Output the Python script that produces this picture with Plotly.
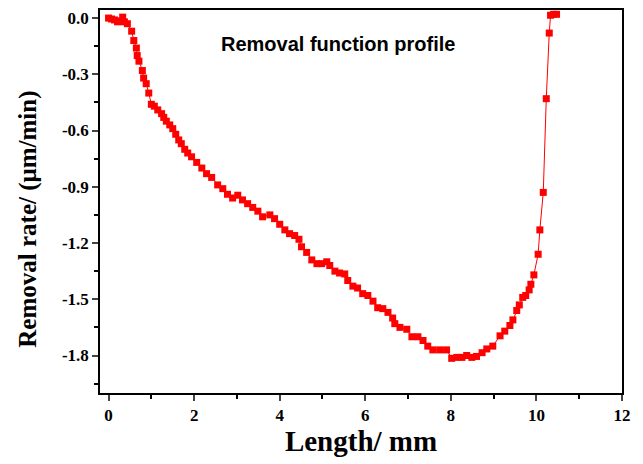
import plotly.graph_objects as go

length_mm = [
    0.00, 0.07, 0.14, 0.21, 0.28, 0.33, 0.37, 0.44, 0.54, 0.59, 0.65, 0.67, 0.71,
    0.79, 0.82, 0.88, 0.94, 1.00, 1.07, 1.15, 1.24, 1.29, 1.35, 1.43, 1.50, 1.57,
    1.64, 1.70, 1.78, 1.85, 1.94, 2.06, 2.18, 2.29, 2.41, 2.55, 2.67, 2.78, 2.90,
    3.02, 3.13, 3.25, 3.37, 3.49, 3.60, 3.77, 3.88, 4.00, 4.12, 4.23, 4.35, 4.45,
    4.51, 4.63, 4.75, 4.87, 4.98, 5.10, 5.17, 5.29, 5.40, 5.52, 5.59, 5.71, 5.82,
    5.94, 6.06, 6.18, 6.29, 6.41, 6.53, 6.64, 6.69, 6.81, 6.97, 7.09, 7.23, 7.35,
    7.46, 7.58, 7.74, 7.90, 8.02, 8.14, 8.26, 8.37, 8.49, 8.60, 8.73, 8.84, 8.98,
    9.15, 9.26, 9.38, 9.45, 9.54, 9.60, 9.68, 9.75, 9.83, 9.87, 9.94, 10.04, 10.08,
    10.16, 10.23, 10.30, 10.33, 10.40, 10.47,
]
removal_rate = [
    0.000, -0.005, -0.010, -0.020, -0.015, 0.005, -0.020, -0.030, -0.070, -0.120,
    -0.160, -0.200, -0.230, -0.280, -0.320, -0.350, -0.400, -0.460, -0.470, -0.490,
    -0.510, -0.530, -0.550, -0.570, -0.590, -0.620, -0.650, -0.670, -0.700, -0.720,
    -0.740, -0.770, -0.800, -0.830, -0.850, -0.890, -0.910, -0.940, -0.960, -0.945,
    -0.970, -0.990, -1.010, -1.030, -1.060, -1.050, -1.070, -1.100, -1.130, -1.150,
    -1.160, -1.180, -1.220, -1.250, -1.290, -1.310, -1.310, -1.300, -1.320, -1.350,
    -1.360, -1.365, -1.400, -1.430, -1.440, -1.470, -1.480, -1.510, -1.545, -1.550,
    -1.570, -1.600, -1.630, -1.650, -1.660, -1.700, -1.700, -1.720, -1.750, -1.770,
    -1.770, -1.770, -1.815, -1.810, -1.810, -1.800, -1.810, -1.805, -1.785, -1.765,
    -1.750, -1.695, -1.670, -1.640, -1.610, -1.560, -1.530, -1.490, -1.480, -1.450,
    -1.420, -1.370, -1.260, -1.130, -0.930, -0.430, -0.080, 0.015, 0.020, 0.020,
]

x_ticks = [0, 2, 4, 6, 8, 10, 12]
x_tick_text = ["0", "2", "4", "6", "8", "10", "12"]
y_ticks = [0.0, -0.3, -0.6, -0.9, -1.2, -1.5, -1.8]
y_tick_text = ["0.0", "-0.3", "-0.6", "-0.9", "-1.2", "-1.5", "-1.8"]

fig = go.Figure()
fig.add_trace(go.Scatter(
    x=length_mm, y=removal_rate, mode="lines+markers",
    line=dict(color="#ff0000", width=1),
    marker=dict(symbol="square", size=7, color="#ff0000", line=dict(width=0)),
    showlegend=False, cliponaxis=False,
))

serif = "Liberation Serif, Times New Roman, serif"
# page body has an 8px margin; figure sized to compensate
fig.update_layout(
    width=635, height=456,
    margin=dict(l=92, r=21, t=0, b=71),
    plot_bgcolor="white", paper_bgcolor="white",
    font=dict(family=serif, color="black"),
    annotations=[
        dict(
            text="<b>Removal function profile</b>", x=0.455, y=0.912,
            xref="paper", yref="paper", showarrow=False,
            xanchor="center", yanchor="middle",
            font=dict(family="Liberation Sans, Arial, sans-serif", size=20, color="black"),
        ),
        dict(
            text="<b>Removal rate/ (μm/min)</b>", x=-0.138, y=0.455,
            xref="paper", yref="paper", showarrow=False, textangle=-90,
            xanchor="center", yanchor="middle",
            font=dict(family=serif, size=25, color="black"),
        ),
    ],
)
fig.update_xaxes(
    range=[-0.2, 12], tickvals=x_ticks, ticktext=x_tick_text, ticks="outside",
    ticklen=6, tickwidth=1.5, ticklabeloverflow="allow",
    showline=True, linecolor="black", linewidth=1.5, mirror=True, showgrid=False,
    zeroline=False,
    tickfont=dict(family=serif, size=17, color="black", weight="bold"),
    minor=dict(tickvals=[1, 3, 5, 7, 9, 11], ticks="outside", ticklen=4, tickcolor="black"),
    title=dict(text="<b>Length/ mm</b>", font=dict(family=serif, size=29), standoff=4),
)
fig.update_yaxes(
    range=[-2.0, 0.043], tickvals=y_ticks, ticktext=y_tick_text, ticks="outside",
    ticklen=6, tickwidth=1.5, ticklabeloverflow="allow",
    showline=True, linecolor="black", linewidth=1.5, mirror=True, showgrid=False,
    zeroline=False,
    tickfont=dict(family=serif, size=17, color="black", weight="bold"),
    minor=dict(tickvals=[-0.15, -0.45, -0.75, -1.05, -1.35, -1.65, -1.95],
               ticks="outside", ticklen=4, tickcolor="black"),
)

fig.write_html("out.html")
